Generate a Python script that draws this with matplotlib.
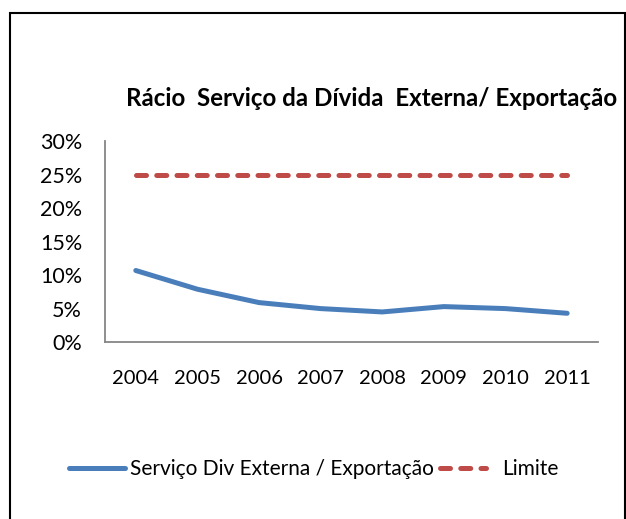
import matplotlib
matplotlib.use('Agg')
import matplotlib.pyplot as plt
from matplotlib.patches import Rectangle
from matplotlib.ticker import PercentFormatter

plt.rcParams['font.family'] = ['Lato', 'DejaVu Sans']

years = ['2004', '2005', '2006', '2007', '2008', '2009', '2010', '2011']
servico = [10.7, 7.9, 5.9, 5.0, 4.5, 5.3, 5.0, 4.3]
limite = [25, 25, 25, 25, 25, 25, 25, 25]

blue = '#4A7EBB'
red = '#BE4B48'

fig = plt.figure(figsize=(6.26, 5.19), dpi=100)
ax = fig.add_axes([0.1677, 0.341, 0.7875, 0.3864])

l1, = ax.plot(years, servico, color=blue, lw=3.6, solid_capstyle='round')
l2, = ax.plot(years, limite, color=red, lw=3.6, dashes=(2.0, 2.05),
              dash_capstyle='round')

ax.set_xlim(-0.5, 7.5)
ax.set_ylim(0, 30)
ax.set_yticks(range(0, 31, 5))
ax.yaxis.set_major_formatter(PercentFormatter(decimals=0))
ax.tick_params(axis='y', length=0, labelsize=15.5, pad=16.5)
ax.tick_params(axis='x', length=0, labelsize=14.5, pad=20)
for s in ['top', 'right']:
    ax.spines[s].set_visible(False)
for s in ['left', 'bottom']:
    ax.spines[s].set_color('#868686')
    ax.spines[s].set_linewidth(1.3)

fig.text(0.5935, 0.811, 'Rácio  Serviço da Dívida  Externa/ Exportação',
         ha='center', va='center', fontsize=17.4, fontweight='bold')

# two legends so each entry can sit where Excel put it
leg1 = fig.legend([l1], ['Serviço Div Externa / Exportação'], loc='center left',
                  bbox_to_anchor=(68.5 / 626, 1 - 469 / 519), frameon=False,
                  fontsize=15, handlelength=2.69, handletextpad=0.26,
                  borderpad=0, borderaxespad=0)
leg2 = fig.legend([l2], ['Limite'], loc='center left',
                  bbox_to_anchor=(439.5 / 626, 1 - 469 / 519), frameon=False,
                  fontsize=15, handlelength=2.23, handletextpad=0.77,
                  borderpad=0, borderaxespad=0)

fig.patches.append(Rectangle((0.0152, -0.1), 0.983, 1.074, transform=fig.transFigure,
                             fill=False, edgecolor='black', lw=1.5))

fig.savefig('out.png', dpi=100)
